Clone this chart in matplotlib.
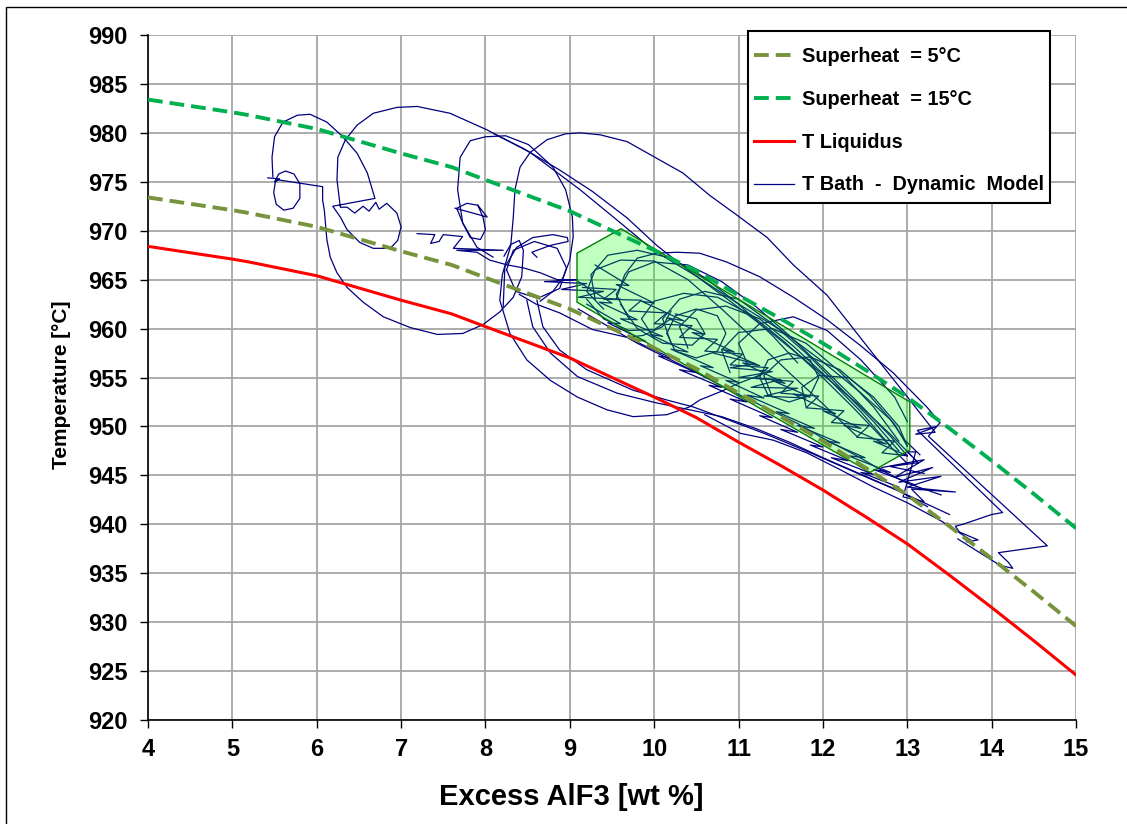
import matplotlib
matplotlib.use('Agg')
import matplotlib.pyplot as plt
from matplotlib.patches import Polygon, Rectangle
from matplotlib.lines import Line2D

plt.rcParams['font.family'] = ['Liberation Sans', 'DejaVu Sans']
plt.rcParams['font.weight'] = 'bold'
plt.rcParams['axes.labelweight'] = 'bold'

# ---------------- data ----------------
alf3 = [4, 5, 5.2, 6, 7, 7.6, 8, 9, 9.5, 10, 10.5, 11, 11.5, 12, 12.5, 13, 13.5, 14, 14.5, 15]
t_liquidus = [968.4, 967.1, 966.8, 965.4, 962.9, 961.5, 960.2, 957.0, 955.0, 953.0, 950.9,
              948.4, 946.0, 943.5, 940.8, 938.0, 934.8, 931.5, 928.1, 924.6]
t_super5 = [973.4, 972.1, 971.8, 970.4, 967.9, 966.5, 965.2, 962.0, 960.0, 958.0, 955.9,
            953.4, 951.0, 948.5, 945.8, 943.0, 939.8, 936.5, 933.1, 929.6]
t_super15 = [983.4, 982.1, 981.8, 980.4, 977.9, 976.5, 975.2, 972.0, 970.0, 968.0, 965.9,
             963.4, 961.0, 958.5, 955.8, 953.0, 949.8, 946.5, 943.1, 939.6]

# target operating window (x, T)
window = [(9.085, 967.7), (9.607, 970.2), (13.03, 952.5), (13.03, 947.6), (12.56, 945.3), (9.085, 962.7)]

# dynamic model trajectory, read piecewise (x = excess AlF3, T = bath temperature)
bath_start = [(5.42, 975.4), (5.56, 975.3), (5.50, 975.0), (5.55, 975.8), (5.63, 976.1), (5.73, 975.8),
              (5.80, 974.8), (5.80, 973.3), (5.72, 972.3), (5.61, 972.1), (5.52, 972.7), (5.49, 973.9),
              (5.51, 975.0), (5.54, 975.2), (6.07, 974.5), (6.07, 973.1), (6.09, 972.1), (6.12, 969.1),
              (6.16, 967.3), (6.24, 965.7), (6.36, 964.2), (6.55, 962.7), (6.79, 961.2), (7.11, 960.1),
              (7.43, 959.4), (7.73, 959.5), (7.97, 960.4), (8.17, 961.7), (8.33, 963.2), (8.43, 965.3),
              (8.45, 968.0), (8.40, 969.0), (8.30, 968.6), (8.22, 967.4)]
bath_upper_arc = [(5.48, 975.5), (5.47, 977.5), (5.50, 979.6), (5.60, 981.1), (5.77, 981.8), (5.92, 981.9),
                  (6.12, 981.1), (6.31, 979.6), (6.48, 977.9), (6.60, 975.9), (6.69, 973.3), (6.19, 972.5),
                  (6.28, 971.4), (6.36, 970.1), (6.51, 968.8), (6.67, 968.2), (6.87, 968.2), (6.96, 969.0),
                  (7.00, 970.4), (6.95, 971.8), (6.83, 972.8), (6.74, 972.2), (6.70, 972.9), (6.62, 972.0),
                  (6.55, 972.5), (6.45, 971.8), (6.36, 972.4), (6.28, 972.4), (6.24, 975.2), (6.25, 977.5),
                  (6.34, 979.3), (6.48, 980.8), (6.67, 982.0), (6.95, 982.6), (7.19, 982.7), (7.58, 982.0),
                  (8.02, 980.3), (8.53, 978.0), (9.12, 974.2), (9.60, 970.8), (9.99, 968.0), (10.51, 965.3),
                  (11.02, 962.4), (11.49, 959.9), (11.97, 956.8), (12.44, 953.5), (12.80, 950.7),
                  (12.97, 948.6), (13.15, 947.1)]
bath_big_loop = [(11.30, 955.4), (11.00, 954.4), (10.80, 953.6), (10.54, 952.7), (10.42, 952.0), (10.15, 951.2),
                 (9.75, 951.0), (9.44, 951.7), (9.09, 953.0), (8.77, 954.7), (8.49, 956.8), (8.29, 959.5),
                 (8.17, 962.9), (8.20, 965.5), (8.30, 968.5), (8.33, 971.4), (8.35, 974.2), (8.41, 976.5),
                 (8.53, 978.0), (8.73, 979.3), (8.95, 979.9), (9.12, 980.0), (9.36, 979.8), (9.68, 979.1),
                 (10.03, 977.4), (10.34, 975.9), (10.66, 973.6), (10.98, 971.6), (11.34, 969.3), (11.65, 966.5),
                 (12.05, 963.4), (12.56, 957.8), (13.03, 952.7), (13.33, 949.4), (13.10, 949.2), (13.35, 950.0),
                 (13.12, 949.6), (14.13, 941.2), (14.00, 941.0), (13.66, 940.0), (13.57, 939.8), (13.62, 939.2),
                 (13.84, 938.4), (13.70, 938.2)]
bath_loop2 = [(8.09, 967.3), (7.90, 968.3), (7.73, 970.8), (7.67, 974.2), (7.70, 977.5), (7.82, 979.2),
              (8.00, 979.6), (8.24, 979.7), (8.51, 978.8), (8.80, 976.5), (8.95, 974.2), (9.03, 971.4),
              (9.04, 969.4), (9.00, 967.0), (8.92, 965.2), (8.80, 963.8), (8.65, 962.8)]
bath_diag = [(8.10, 979.9), (8.45, 978.4), (8.88, 976.2), (9.27, 974.0), (9.68, 971.3), (10.03, 968.5),
             (10.40, 966.0), (10.90, 962.8), (11.40, 959.5), (11.90, 956.0), (12.40, 952.4), (12.80, 949.2),
             (13.05, 947.0)]
bath_top_arc = [(9.55, 963.0), (9.65, 965.5), (9.80, 967.2), (10.03, 967.7), (10.27, 967.8), (10.54, 967.7),
                (10.86, 966.8), (11.25, 965.3), (11.65, 963.2), (12.05, 960.9), (12.44, 958.3), (12.83, 955.5),
                (13.23, 952.0), (13.39, 950.4), (13.25, 949.0), (14.66, 937.8), (14.08, 937.1), (14.20, 936.1),
                (14.25, 935.5), (14.10, 935.8), (13.60, 938.5)]
bath_low_a = [(8.49, 962.9), (8.56, 960.2), (8.77, 957.5), (9.09, 955.1), (9.56, 953.4), (10.03, 952.4),
              (10.42, 951.7), (10.80, 951.0), (11.20, 949.8), (11.60, 948.4), (12.00, 946.8), (12.40, 945.3),
              (12.80, 943.8), (13.20, 942.2), (13.50, 941.0)]
bath_low_b = [(8.61, 962.9), (8.68, 960.2), (8.88, 957.8), (9.20, 955.8), (9.75, 953.7), (10.15, 952.7),
              (10.46, 952.0), (10.90, 950.6), (11.30, 949.3), (11.80, 947.5), (12.20, 946.0), (12.60, 944.5),
              (12.90, 943.4), (13.24, 941.8)]
bath_low_c = [(10.60, 951.2), (11.02, 949.3), (11.41, 948.6), (11.81, 947.3), (12.20, 945.6), (12.60, 943.8),
              (13.00, 942.2), (13.39, 940.4), (13.75, 938.4)]
bath_low_d = [(9.10, 962.0), (9.50, 960.0), (9.80, 958.5), (10.20, 956.8), (10.50, 955.5), (10.90, 953.7),
              (11.30, 952.0), (11.70, 950.3), (12.00, 948.8), (12.40, 947.0), (12.70, 945.5), (13.00, 944.2),
              (13.40, 943.0)]
bath_mid_loop = [(8.40, 963.5), (8.60, 962.5), (8.88, 961.6), (9.27, 959.9), (9.68, 959.1), (9.87, 959.3),
                 (10.10, 960.2), (10.20, 961.8)]
bath_jagged = [(7.19, 969.7), (7.40, 969.6), (7.35, 968.7), (7.45, 968.9), (7.50, 969.6), (7.73, 969.4),
               (7.62, 968.2), (8.21, 968.0), (7.66, 968.0), (7.90, 967.8), (8.05, 967.0), (8.26, 966.5),
               (8.45, 966.2), (8.65, 965.7), (8.85, 965.0), (9.09, 965.0), (8.70, 964.8), (9.20, 964.6),
               (8.90, 964.0), (9.40, 963.8), (9.10, 963.2), (9.60, 963.0)]
bath_small_loop = [(7.64, 972.3), (8.02, 971.4), (7.91, 972.6), (7.78, 972.8), (7.66, 972.3), (7.73, 970.8),
                   (7.82, 969.3), (7.94, 969.1), (8.00, 970.1), (7.97, 971.4), (7.91, 972.6)]
bath_hook = [(8.21, 962.2), (8.23, 966.3), (8.37, 968.3), (8.56, 969.3), (8.80, 969.6), (8.97, 969.3),
             (8.98, 968.9), (8.77, 968.5), (8.55, 967.8), (8.61, 967.3)]
bath_circle = [(8.25, 966.0), (8.33, 968.0), (8.58, 968.9), (8.85, 968.2), (8.96, 966.2), (8.88, 964.1),
               (8.62, 963.1), (8.36, 963.8), (8.25, 966.0)]
bath_zig1 = [(9.10, 964.8), (9.50, 962.6), (9.35, 962.7), (9.80, 960.9), (9.60, 961.0), (10.10, 959.2),
             (9.95, 959.4), (10.40, 957.6), (10.20, 957.9), (10.70, 956.0), (10.55, 956.2), (11.00, 954.5),
             (10.85, 954.7), (11.30, 952.9), (11.10, 953.2), (11.60, 951.3), (11.45, 951.5), (11.90, 949.8),
             (11.70, 950.1), (12.20, 948.3), (12.05, 948.5), (12.50, 946.8), (12.30, 947.0), (12.80, 945.3),
             (12.60, 945.6), (13.10, 944.0)]
bath_zig2 = [(9.30, 966.5), (9.70, 964.4), (9.55, 964.5), (10.00, 962.6), (9.85, 962.8), (10.35, 960.8),
             (10.15, 961.1), (10.60, 959.4), (10.45, 959.6), (10.95, 957.6), (10.80, 957.9), (11.25, 956.2),
             (11.05, 956.5), (11.55, 954.4), (11.40, 954.7), (11.85, 953.0), (11.65, 953.3), (12.15, 951.3),
             (12.00, 951.6), (12.45, 949.8), (12.25, 950.1), (12.75, 948.2), (12.60, 948.5), (13.00, 947.0)]
bath_zig3 = [(9.20, 962.5), (9.60, 960.5), (9.45, 960.6), (9.90, 958.7), (9.70, 959.0), (10.20, 957.0),
             (10.05, 957.2), (10.50, 955.5), (10.30, 955.8), (10.80, 954.0), (10.65, 954.2), (11.10, 952.5),
             (10.90, 952.8), (11.40, 950.9), (11.25, 951.1), (11.70, 949.4), (11.50, 949.7), (12.00, 947.9),
             (11.85, 948.1), (12.30, 946.5), (12.10, 946.8), (12.60, 945.1), (12.45, 945.3), (12.90, 943.8)]
bath_zig4 = [(10.70, 957.5), (11.20, 956.4), (10.90, 956.0), (11.40, 955.6), (11.00, 955.0), (11.50, 954.8),
             (11.15, 954.0), (11.70, 953.9), (11.30, 953.1), (11.80, 952.9)]
bath_zig5 = [(9.15, 964.2), (9.55, 964.0), (9.40, 963.0), (9.85, 962.9), (9.70, 961.8), (10.15, 961.6),
             (10.00, 960.5), (10.45, 960.3), (10.30, 959.1), (10.75, 958.9), (10.60, 957.7), (11.05, 957.4),
             (10.90, 956.3), (11.35, 956.0), (11.20, 954.9), (11.65, 954.6), (11.50, 953.4), (11.95, 953.1),
             (11.80, 951.9), (12.25, 951.6), (12.10, 950.4), (12.55, 950.1), (12.40, 948.9), (12.85, 948.5),
             (12.70, 947.3), (13.00, 947.0)]
bath_band_a = [(9.70, 961.0), (9.55, 963.5), (9.70, 965.8), (10.00, 966.8), (10.40, 966.5), (10.80, 964.8),
               (11.20, 962.3), (11.60, 959.3), (12.00, 956.0), (12.40, 952.6), (12.80, 949.0), (13.00, 947.0)]
bath_band_b = [(10.20, 958.5), (10.10, 961.0), (10.30, 963.0), (10.60, 963.8), (11.00, 963.0), (11.40, 960.5),
               (11.80, 957.5), (12.20, 954.0), (12.60, 950.5), (12.90, 947.5)]
bath_band_c = [(10.90, 955.5), (10.80, 957.8), (11.00, 959.6), (11.40, 960.0), (11.80, 958.5), (12.20, 955.6),
               (12.60, 952.0), (12.90, 948.5)]
bath_band_d = [(9.30, 963.0), (9.25, 965.5), (9.45, 967.5), (9.80, 968.0), (10.20, 967.2), (10.60, 965.2),
               (11.00, 962.5), (11.40, 959.3), (11.70, 956.5)]
bath_band_e = [(10.15, 959.5), (10.25, 961.3), (10.50, 962.0), (10.75, 961.3), (10.85, 959.5), (10.75, 957.7),
               (10.50, 957.0), (10.25, 957.7), (10.15, 959.5)]
bath_band_f = [(11.25, 955.0), (11.35, 956.8), (11.60, 957.5), (11.85, 956.8), (11.95, 955.0), (11.85, 953.2),
               (11.60, 952.5), (11.35, 953.2), (11.25, 955.0)]
bath_band_g = [(9.40, 962.0), (9.20, 963.8), (9.30, 966.0), (9.60, 967.0), (10.00, 966.9), (10.40, 965.0),
               (10.80, 962.0), (11.20, 958.8), (11.60, 955.5), (12.00, 952.3), (12.40, 949.0)]
bath_band_h = [(10.00, 959.0), (9.85, 961.0), (10.00, 962.8), (10.35, 963.6), (10.75, 963.2), (11.15, 961.4),
               (11.55, 958.6), (11.95, 955.4), (12.35, 952.0), (12.75, 948.4), (13.00, 946.2)]
bath_band_i = [(11.40, 953.0), (11.30, 955.2), (11.50, 956.8), (11.85, 957.1), (12.20, 955.8), (12.55, 953.2),
               (12.85, 950.2), (13.00, 948.0)]
bath_band_j = [(9.60, 962.5), (9.80, 960.0), (10.10, 958.5), (10.45, 958.3), (10.60, 959.5), (10.50, 961.0),
               (10.25, 961.5)]
bath_band_k = [(11.80, 952.0), (11.75, 954.0), (11.95, 955.2), (12.30, 955.0), (12.60, 953.0), (12.90, 950.0),
               (13.00, 948.0)]
bath_band_l = [(10.40, 958.0), (10.30, 960.2), (10.50, 961.9), (10.85, 962.3), (11.25, 961.0), (11.65, 958.2),
               (12.05, 955.0), (12.45, 951.5), (12.80, 948.0)]
bath_band_m = [(11.10, 956.5), (11.00, 958.5), (11.25, 960.5), (11.65, 961.2), (12.05, 959.8), (12.45, 956.8),
               (12.85, 953.0), (13.00, 950.5)]
bath_band_n = [(9.20, 963.0), (9.40, 961.0), (9.70, 959.8), (10.00, 959.9), (10.20, 961.0)]
bath_spikes = [(12.70, 945.8), (13.20, 946.6), (12.85, 944.8), (13.30, 945.8), (12.90, 944.3), (13.40, 944.9),
               (13.00, 943.8), (13.57, 943.3), (13.05, 943.6), (13.20, 942.3), (12.95, 942.8), (13.10, 947.4),
               (13.00, 947.4), (13.13, 946.3), (12.80, 945.9), (13.20, 945.2)]

bath_segments = [bath_start, bath_upper_arc, bath_big_loop, bath_loop2, bath_diag, bath_top_arc,
                 bath_low_a, bath_low_b, bath_low_c, bath_low_d, bath_mid_loop, bath_jagged,
                 bath_small_loop, bath_hook, bath_circle, bath_zig1, bath_zig2, bath_zig3, bath_zig4,
                 bath_zig5, bath_band_a, bath_band_b, bath_band_c, bath_band_d, bath_band_e, bath_band_f,
                 bath_band_g, bath_band_h, bath_band_i, bath_band_j, bath_band_k, bath_band_l,
                 bath_band_m, bath_band_n, bath_spikes]

labels = ['Superheat  = 5°C', 'Superheat  = 15°C', 'T Liquidus', 'T Bath  -  Dynamic  Model']
x_ticks = list(range(4, 16))
y_ticks = list(range(920, 991, 5))

# ---------------- colours / styles ----------------
c_olive = '#77933C'
c_green = '#00B050'
c_red = '#FF0000'
c_blue = '#000080'
dash = (0, (3.8, 1.8))

fig = plt.figure(figsize=(11.27, 8.24), dpi=100)
ax = fig.add_axes([148 / 1127, 104 / 824, 928 / 1127, 685 / 824])

for seg in bath_segments:
    xs = [p[0] for p in seg]
    ts = [p[1] for p in seg]
    ax.plot(xs, ts, color=c_blue, lw=0.9, zorder=2)

ax.add_patch(Polygon(window, closed=True, facecolor=(0, 1, 0, 0.25), edgecolor='#008000', lw=1.0, zorder=3))

ax.plot(alf3, t_super5, color=c_olive, lw=2.8, ls=dash, zorder=4)
ax.plot(alf3, t_super15, color=c_green, lw=2.8, ls=dash, zorder=4)
ax.plot(alf3, t_liquidus, color=c_red, lw=2.2, zorder=4)

ax.set_xlim(4, 15)
ax.set_ylim(920, 990)
ax.set_xticks(x_ticks)
ax.set_yticks(y_ticks)
ax.set_axisbelow(True)
ax.grid(True, color='#a6a6a6', lw=1.3)
for s in ['top', 'right']:
    ax.spines[s].set_visible(False)
for s in ['left', 'bottom']:
    ax.spines[s].set_color('black')
    ax.spines[s].set_linewidth(1.2)
ax.tick_params(axis='both', direction='out', length=6, width=1, labelsize=17)
ax.tick_params(axis='y', pad=9)
ax.tick_params(axis='x', pad=7)

ax.set_xlabel('Excess AlF3 [wt %]', fontsize=21)
ax.xaxis.set_label_coords(0.456, -0.092)
ax.set_ylabel('Temperature [°C]', fontsize=15)
ax.yaxis.set_label_coords(-0.083, 0.49)

# legend frame drawn separately at its exact place
ax.add_patch(Rectangle(((748 - 148) / 928, (720 - 203) / 685), (1050 - 748) / 928, (203 - 31) / 685,
                       transform=ax.transAxes, clip_on=False, facecolor='white', edgecolor='black',
                       lw=1.5, zorder=9))
handles = [Line2D([], [], color=c_olive, lw=2.8, ls=dash),
           Line2D([], [], color=c_green, lw=2.8, ls=dash),
           Line2D([], [], color=c_red, lw=2.2),
           Line2D([], [], color=c_blue, lw=0.9)]
leg = ax.legend(handles, labels, loc='upper right', bbox_to_anchor=((1050 - 148) / 928, (720 - 41) / 685),
                borderaxespad=0, fontsize=14.3, handlelength=2.0, handletextpad=0.4, labelspacing=1.2,
                borderpad=0.3, frameon=False)
leg.set_zorder(10)

fig.add_artist(Rectangle((6 / 1127, -0.01), 1.0, 1 - 7 / 824 + 0.01, transform=fig.transFigure,
                         fill=False, ec='black', lw=1))

fig.savefig('out.png', dpi=100)
